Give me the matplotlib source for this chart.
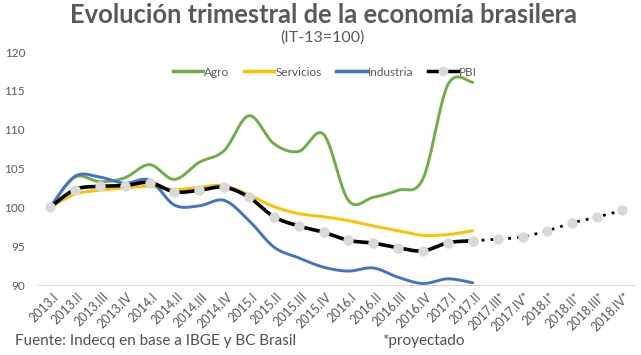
import numpy as np
import matplotlib.pyplot as plt
from matplotlib.lines import Line2D
import matplotlib.transforms as mtrans

plt.rcParams['font.family'] = ['Lato', 'DejaVu Sans']

# quarters
quarters = ['2013.I', '2013.II', '2013.III', '2013.IV', '2014.I', '2014.II', '2014.III', '2014.IV',
            '2015.I', '2015.II', '2015.III', '2015.IV', '2016.I', '2016.II', '2016.III', '2016.IV',
            '2017.I', '2017.II', '2017.III*', '2017.IV*', '2018.I*', '2018.II*', '2018.III*', '2018.IV*']

agro = [100.0, 103.9, 103.3, 103.8, 105.5, 103.6, 105.8, 107.3, 111.8, 108.2, 107.2, 109.4,
        100.9, 101.3, 102.2, 103.7, 115.8, 116.1]
servicios = [100.0, 101.7, 102.2, 102.5, 102.7, 102.3, 102.6, 102.8, 101.6, 100.1, 99.2, 98.8,
             98.3, 97.6, 97.0, 96.4, 96.5, 97.0]
industria = [100.0, 104.0, 103.9, 103.1, 103.5, 100.3, 100.2, 100.9, 98.3, 94.9, 93.5, 92.3,
             91.8, 92.2, 91.0, 90.2, 90.8, 90.3]
pbi = [100.0, 102.3, 102.7, 102.8, 103.2, 102.0, 102.2, 102.6, 101.3, 98.8, 97.6, 96.8,
       95.75, 95.4, 94.8, 94.4, 95.45, 95.7]
pbi_proj = [95.7, 95.9, 96.2, 97.0, 98.0, 98.75, 99.6]

txt = '#595959'


def smooth(x, y, n=24):
    # excel-like smoothed line (catmull-rom bezier)
    x = np.asarray(x, float)
    y = np.asarray(y, float)
    pts = np.column_stack([x, y])
    out = []
    for i in range(len(pts) - 1):
        p0 = pts[i - 1] if i > 0 else pts[i]
        p1, p2 = pts[i], pts[i + 1]
        p3 = pts[i + 2] if i + 2 < len(pts) else pts[i + 1]
        c1 = p1 + (p2 - p0) / 6
        c2 = p2 - (p3 - p1) / 6
        t = np.linspace(0, 1, n)[:, None]
        seg = (1 - t) ** 3 * p1 + 3 * (1 - t) ** 2 * t * c1 + 3 * (1 - t) * t ** 2 * c2 + t ** 3 * p2
        out.append(seg if i == 0 else seg[1:])
    out = np.vstack(out)
    return out[:, 0], out[:, 1]


fig = plt.figure(figsize=(6.41, 3.55), dpi=100)
ax = fig.add_axes([0.0587, 0.197, 0.931, 0.6565])

x_real = np.arange(len(agro))
x_proj = np.arange(len(pbi) - 1, len(quarters))

ax.plot(*smooth(x_real, agro), color='#70AD47', lw=2.1, solid_capstyle='round')
ax.plot(*smooth(x_real, servicios), color='#FFC000', lw=2.1, solid_capstyle='round')
ax.plot(*smooth(x_real, industria), color='#4472C4', lw=2.1, solid_capstyle='round')
ax.plot(*smooth(x_real, pbi), color='black', lw=2.6, solid_capstyle='round')
ax.plot(*smooth(x_proj, pbi_proj), color='black', lw=2.0, ls=(0, (1, 2.2)))
ax.plot(x_real, pbi, ls='none', marker='o', ms=6.5, mfc='#D9D9D9', mec='#D9D9D9', zorder=5)
ax.plot(x_proj, pbi_proj, ls='none', marker='o', ms=6.5, mfc='#D9D9D9', mec='#D9D9D9', zorder=5)

ax.set_xlim(-0.5, len(quarters) - 0.5)
ax.set_ylim(90, 120)
ax.set_yticks(range(90, 121, 5))
ax.set_xticks(range(len(quarters)))
ax.set_xticklabels(quarters, rotation=45, ha='right', va='top', rotation_mode='anchor')
ax.tick_params(axis='both', length=0, colors=txt, labelsize=8.5)
ax.tick_params(axis='x', labelsize=9, pad=4)
ax.tick_params(axis='y', pad=9)
shift = mtrans.ScaledTranslation(2 / 100, 0, fig.dpi_scale_trans)
for lab in ax.get_xticklabels():
    lab.set_transform(lab.get_transform() + shift)
for s in ['top', 'right', 'left']:
    ax.spines[s].set_visible(False)
ax.spines['bottom'].set_color('#D9D9D9')
ax.patch.set_alpha(0)

handles = [Line2D([], [], color='#70AD47', lw=2.5),
           Line2D([], [], color='#FFC000', lw=2.5),
           Line2D([], [], color='#4472C4', lw=2.5),
           Line2D([], [], color='black', lw=2.5, marker='o', ms=6, mfc='#D9D9D9', mec='#D9D9D9')]
fig.legend(handles, ['Agro', 'Servicios', 'Industria', 'PBI'], loc='center',
           bbox_to_anchor=(325 / 641, 1 - 72 / 355), ncol=4, frameon=False,
           fontsize=8.5, labelcolor=txt, handlelength=2.55, handletextpad=0.1,
           columnspacing=1.25)

fig.text(323 / 641, 1 - 15 / 355, 'Evolución trimestral de la economía brasilera',
         ha='center', va='center', fontsize=18.4, fontweight='bold', color=txt)
fig.text(322 / 641, 1 - 38 / 355, '(IT-13=100)', ha='center', va='center',
         fontsize=11.5, color=txt)
fig.text(15 / 641, 1 - 341 / 355, 'Fuente: Indecq en base a IBGE y BC Brasil',
         ha='left', va='center', fontsize=11, color='#505050')
fig.text(382 / 641, 1 - 341 / 355, '*proyectado',
         ha='left', va='center', fontsize=11, color='#505050')

fig.savefig('out.png', dpi=100)
